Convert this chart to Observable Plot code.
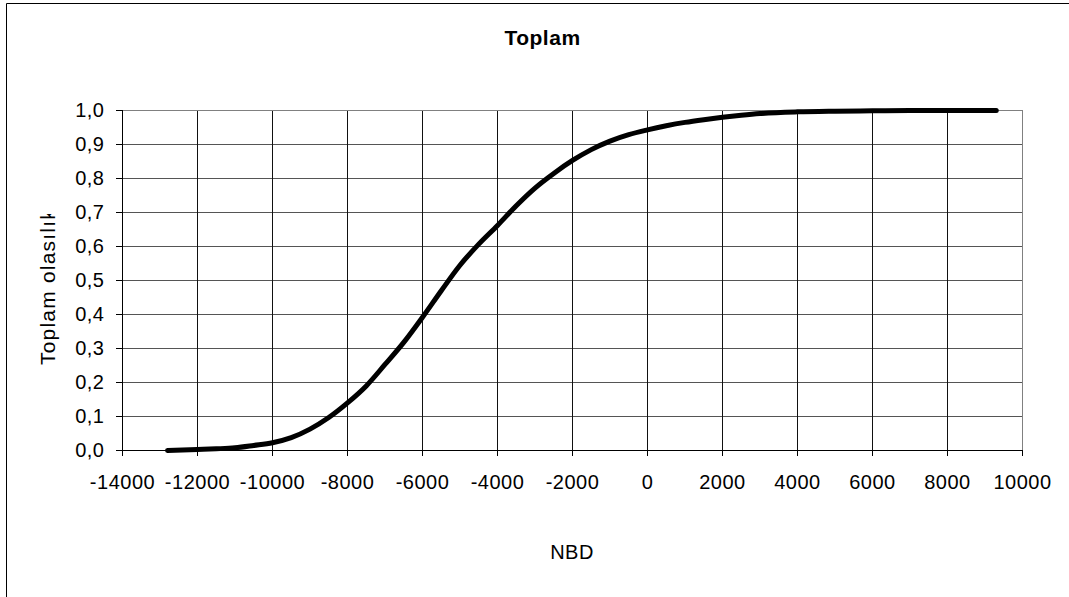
<!DOCTYPE html>
<html>
<head>
<meta charset="utf-8">
<script src="https://cdn.jsdelivr.net/npm/d3@7"></script>
<script src="https://cdn.jsdelivr.net/npm/@observablehq/plot@0.6"></script>
<style>
  body { margin: 0; background: #fff; }
  #chart { position: relative; width: 1069px; height: 597px; overflow: hidden; background: #fff; }
  #chart svg text { letter-spacing: 0.5px; }
</style>
</head>
<body>
<div id="chart"></div>
<script>
// Cumulative probability of NBD (net present value) outcomes
const nbd = [-12800, -12000, -11500, -11000, -10500, -10000, -9500, -9000, -8500, -8000,
  -7500, -7000, -6500, -6000, -5500, -5000, -4500, -4000, -3500, -3000,
  -2500, -2000, -1500, -1000, -500, 0, 500, 1000, 1500, 2000,
  2500, 3000, 4000, 5000, 6000, 7000, 8000, 9300];
const cumulative = [0.000, 0.003, 0.005, 0.008, 0.015, 0.023, 0.038, 0.063, 0.097, 0.140,
  0.190, 0.253, 0.318, 0.392, 0.470, 0.545, 0.607, 0.662, 0.720, 0.772,
  0.815, 0.853, 0.885, 0.910, 0.929, 0.943, 0.955, 0.965, 0.973, 0.980,
  0.986, 0.991, 0.996, 0.998, 0.999, 1.000, 1.000, 1.000];

const xTicks = [-14000, -12000, -10000, -8000, -6000, -4000, -2000, 0, 2000, 4000, 6000, 8000, 10000];
const yTicks = [0, 0.1, 0.2, 0.3, 0.4, 0.5, 0.6, 0.7, 0.8, 0.9, 1.0];

const title = "Toplam";
const xLabel = "NBD";
const yLabel = "Toplam olasılık";

const data = nbd.map((x, i) => ({x, p: cumulative[i]}));
const fmtY = d => d.toFixed(1).replace(".", ",");
const fmtX = d => String(d);

const W = 1069, H = 597;
const plot = Plot.plot({
  width: W,
  height: H,
  marginLeft: 122,
  marginRight: 47,
  marginTop: 110,
  marginBottom: 147,
  style: {
    fontFamily: "Arial, 'Liberation Sans', sans-serif",
    fontSize: "20px",
    background: "#fff",
    color: "#000"
  },
  x: {domain: [-14000, 10000]},
  y: {domain: [0, 1]},
  marks: [
    Plot.gridY(yTicks, {stroke: "#555", strokeOpacity: 1}),
    Plot.gridX(xTicks, {stroke: "#111", strokeOpacity: 1}),
    Plot.ruleY([1], {stroke: "#808080"}),
    Plot.ruleX([10000], {stroke: "#808080"}),
    Plot.line(data, {x: "x", y: "p", stroke: "#000", strokeWidth: 5, curve: "monotone-x", strokeLinejoin: "round"}),
    Plot.ruleX([-14000], {stroke: "#000"}),
    Plot.ruleY([0], {stroke: "#000"}),
    Plot.axisX(xTicks, {tickFormat: fmtX, tickSize: 6, tickPadding: 18, label: null, fill: "#000", stroke: "#000"}),
    Plot.axisY(yTicks, {tickFormat: fmtY, tickSize: 6, tickPadding: 12, label: null, fill: "#000", stroke: "#000"})
  ]
});

const svg = d3.select(plot);

// chart area border: only its top and left edges fall inside the page
svg.append("path")
  .attr("d", "M6.5,700V3.5H1200")
  .attr("fill", "none").attr("stroke", "#000").attr("stroke-width", 1);

// chart title
svg.append("text")
  .attr("x", 542.5).attr("y", 45)
  .attr("text-anchor", "middle")
  .attr("font-weight", "bold")
  .attr("font-size", 21)
  .attr("fill", "#000")
  .text(title);

// x axis title
svg.append("text")
  .attr("x", 572).attr("y", 559)
  .attr("text-anchor", "middle")
  .attr("font-size", 20)
  .attr("fill", "#000")
  .text(xLabel);

// y axis title, cut off by its box at the top
svg.append("clipPath").attr("id", "ytitle-clip")
  .append("rect").attr("x", 0).attr("y", 214).attr("width", 110).attr("height", 300);
svg.append("g")
  .attr("clip-path", "url(#ytitle-clip)")
  .append("text")
  .attr("transform", "translate(55,365) rotate(-90)")
  .attr("text-anchor", "start")
  .attr("font-size", 21)
  .style("letter-spacing", "1.2px")
  .attr("fill", "#000")
  .text(yLabel);

document.getElementById("chart").append(plot);
</script>
</body>
</html>
